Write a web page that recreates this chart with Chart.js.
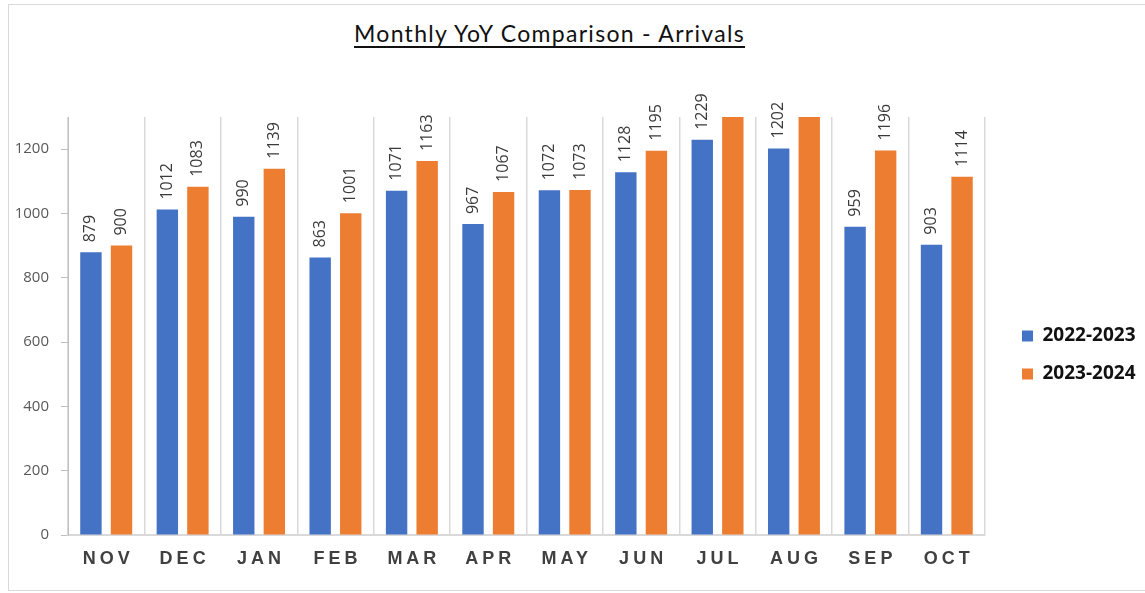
<!DOCTYPE html>
<html>
<head>
<meta charset="utf-8">
<script src="https://cdn.jsdelivr.net/npm/chart.js@4.4.1/dist/chart.umd.min.js"></script>
<style>
  html, body { margin: 0; padding: 0; background: #ffffff; }
  #frame { position: absolute; left: 8px; top: 4px; width: 1160px; height: 587px; border: 1px solid #d9d9d9; box-sizing: border-box; }
  #title { position: absolute; left: 0; top: 19px; width: 1099px; text-align: center;
           font-family: Lato, "Open Sans", sans-serif; font-size: 23px; letter-spacing: 1.3px; color: #111;
           text-decoration: underline; text-decoration-thickness: 1.5px; text-underline-offset: 4px; }
  #wrap { position: absolute; left: 0; top: 0; width: 1145px; height: 593px; }
</style>
</head>
<body>
<div id="frame"></div>
<div id="title">Monthly YoY Comparison - Arrivals</div>
<div id="wrap"><canvas id="c" width="1145" height="593"></canvas></div>
<script>
const categories = ["NOV", "DEC", "JAN", "FEB", "MAR", "APR", "MAY", "JUN", "JUL", "AUG", "SEP", "OCT"];
const seriesNames = ["2022-2023", "2023-2024"];
const values2022_2023 = [879, 1012, 990, 863, 1071, 967, 1072, 1128, 1229, 1202, 959, 903];
const values2023_2024 = [900, 1083, 1139, 1001, 1163, 1067, 1073, 1195, 1320, 1310, 1196, 1114];
const yMin = 0;
const yMax = 1300;
const yStep = 200;

const barLabels = {
  id: 'barLabels',
  afterDatasetsDraw(chart) {
    const ctx = chart.ctx;
    const yScale = chart.scales.y;
    ctx.save();
    ctx.font = '16px "Open Sans", sans-serif';
    ctx.fillStyle = '#3a3a3a';
    ctx.textAlign = 'left';
    ctx.textBaseline = 'middle';
    chart.data.datasets.forEach((ds, di) => {
      const meta = chart.getDatasetMeta(di);
      meta.data.forEach((bar, i) => {
        const v = ds.data[i];
        if (v > yScale.max) return;
        ctx.save();
        ctx.translate(bar.x, bar.y - 10);
        ctx.rotate(-Math.PI / 2);
        ctx.fillText(String(v), 0, 0);
        ctx.restore();
      });
    });
    ctx.restore();
  }
};

const layoutTweaks = {
  id: 'layoutTweaks',
  afterInit(chart) {
    const lg = chart.legend;
    const origFit = lg.fit.bind(lg);
    lg.fit = function () { origFit(); if (!this.isHorizontal()) this.width = 160; };
  },
  afterLayout(chart) {
    const lg = chart.legend;
    const dx = chart.chartArea.right + 18 - lg.left;
    lg.left += dx; lg.right += dx;
    const xs = chart.scales.x;
    if (!xs._lsPatched) {
      const orig = xs.drawLabels.bind(xs);
      xs.drawLabels = function (area) {
        const c = this.ctx;
        c.save();
        c.letterSpacing = '4px';
        c.translate(2, 0);
        orig(area);
        c.restore();
      };
      xs._lsPatched = true;
    }
  }
};

new Chart(document.getElementById('c'), {
  type: 'bar',
  data: {
    labels: categories,
    datasets: [
      { label: seriesNames[0], data: values2022_2023, backgroundColor: '#4472C4', borderWidth: 0,
        categoryPercentage: 0.80, barPercentage: 0.70 },
      { label: seriesNames[1], data: values2023_2024, backgroundColor: '#ED7D31', borderWidth: 0,
        categoryPercentage: 0.80, barPercentage: 0.70 }
    ]
  },
  options: {
    responsive: false,
    animation: false,
    layout: { padding: { top: 117, left: 0, right: 0, bottom: 0 } },
    plugins: {
      title: { display: false },
      tooltip: { enabled: false },
      legend: {
        position: 'right',
        align: 'center',
        labels: {
          boxWidth: 11, boxHeight: 11, padding: 19, color: '#111',
          font: { family: '"Open Sans", sans-serif', size: 19, weight: 'bold' }
        }
      }
    },
    scales: {
      x: {
        grid: { display: true, offset: true, drawOnChartArea: true, drawTicks: false, color: '#d9d9d9', lineWidth: 1.5 },
        border: { display: true, color: '#d9d9d9', width: 2 },
        ticks: { color: '#404040', padding: 13, font: { family: '"Liberation Sans", Arial, sans-serif', size: 18, weight: 'bold' } },
        afterFit(scale) { scale.height = 58; }
      },
      y: {
        min: yMin, max: yMax,
        grid: { display: true, drawOnChartArea: false, drawTicks: true, tickLength: 7, color: '#bfbfbf' },
        border: { display: true, color: '#bfbfbf', width: 1 },
        ticks: { stepSize: yStep, includeBounds: false, color: '#595959', padding: 12,
                 font: { family: '"Open Sans", sans-serif', size: 15 },
                 callback: (v) => String(v) },
        afterFit(scale) { scale.width = 68; }
      }
    }
  },
  plugins: [barLabels, layoutTweaks]
});
</script>
</body>
</html>
